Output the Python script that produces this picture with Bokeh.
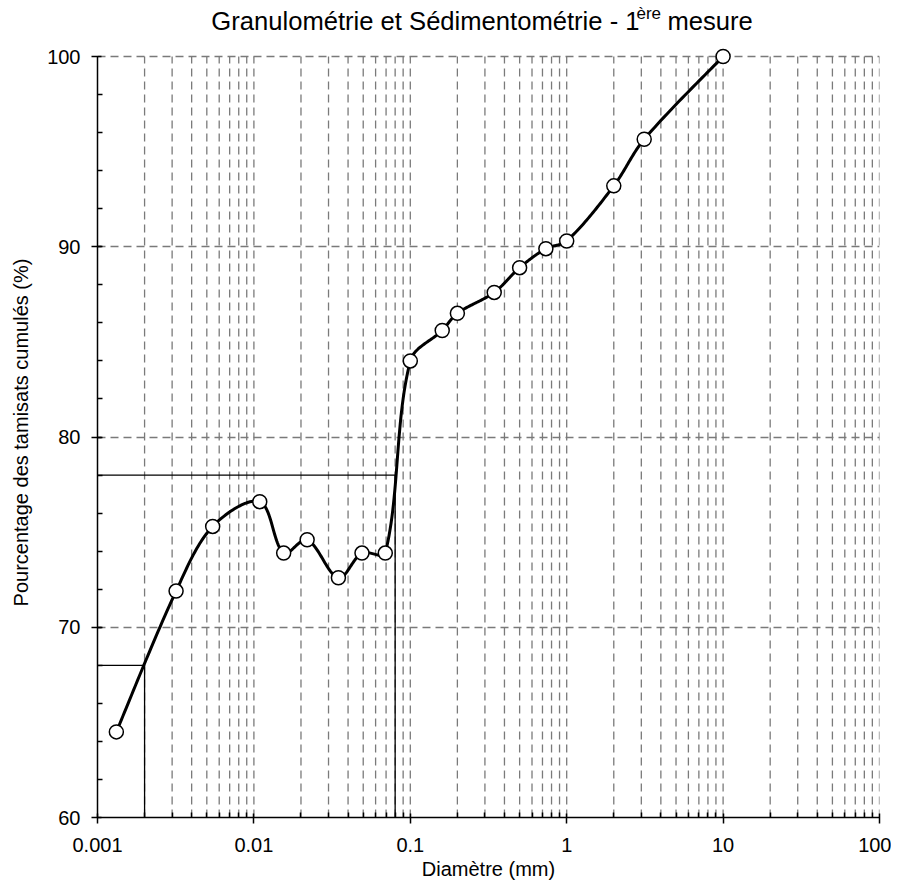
import math
from bokeh.plotting import figure
from bokeh.layouts import column
from bokeh.models import FixedTicker, CustomJSTickFormatter, Range1d
from bokeh.core.properties import value
from bokeh.embed import file_html
from bokeh.resources import INLINE

# ---- data ----
diam = [0.00132, 0.00318, 0.00545, 0.0109, 0.0155, 0.0219, 0.0347, 0.0491, 0.0692,
        0.1, 0.16, 0.2, 0.344, 0.5, 0.736, 1.0, 2.0, 3.13, 10.0]
passing = [64.5, 71.9, 75.3, 76.6, 73.9, 74.6, 72.6, 73.9, 73.9,
           84.0, 85.6, 86.5, 87.6, 88.9, 89.9, 90.3, 93.2, 95.65, 100.0]
ref_d = [0.002, 0.08]
ref_p = [68, 78]
x_ticks = [0.001, 0.01, 0.1, 1, 10, 100]
y_ticks = [60, 70, 80, 90, 100]
title_main = "Granulométrie et Sédimentométrie - 1"
title_sup = "ère"
title_end = "mesure"

FONT = "Liberation Sans"
X0, X1, Y0, Y1 = 0.001, 100, 60, 100
W = 891
TH = 40                      # title strip height
PL, PR = 97, 879             # plot-area left/right (page px)
PT, PB = 56, 817             # plot-area top (value 100) / bottom (value 60)
EXTRA = 9                    # room above 100 so the top marker is not cut
H = 883 - TH
ML, MR = PL, W - PR
MT = PT - EXTRA - TH
MB = H - (PB - TH)
fw = PR - PL
sv = (PB - PT) / (Y1 - Y0)
YTOP = Y1 + EXTRA / sv

# ---- title strip ----
t = figure(width=W, height=TH, x_range=Range1d(PL, PR), y_range=Range1d(0, TH),
           output_backend="svg", toolbar_location=None,
           x_axis_location=None, y_axis_location=None,
           min_border_left=ML, min_border_right=MR, min_border_top=0, min_border_bottom=0)
t.outline_line_color = None
t.xgrid.visible = False
t.ygrid.visible = False
t.text(x=[639], y=[TH - 20], text=[title_main], text_align="right",
       text_baseline="alphabetic", text_font=value(FONT), text_font_size="25.6px",
       text_color="black")
t.text(x=[636], y=[TH - 13], text=[title_sup], text_align="left",
       text_baseline="alphabetic", text_font=value(FONT), text_font_size="17px",
       text_color="black")
t.text(x=[667], y=[TH - 20], text=[title_end], text_align="left",
       text_baseline="alphabetic", text_font=value(FONT), text_font_size="25.6px",
       text_color="black")

# ---- chart ----
p = figure(width=W, height=H, x_axis_type="log", output_backend="svg",
           toolbar_location=None, x_range=Range1d(X0, X1), y_range=Range1d(Y0, YTOP),
           min_border_left=ML, min_border_right=MR, min_border_top=MT, min_border_bottom=MB)
p.outline_line_color = None
p.background_fill_color = "white"

minor_x = [k * 10.0 ** d for d in range(-3, 2) for k in range(2, 10)]
p.xaxis.ticker = FixedTicker(ticks=x_ticks, minor_ticks=minor_x)
p.yaxis.ticker = FixedTicker(ticks=y_ticks, minor_ticks=list(range(62, 100, 2)))
p.xaxis.formatter = CustomJSTickFormatter(code="return String(tick);")
p.yaxis.bounds = (Y0, Y1)

for ax in (p.xaxis[0], p.yaxis[0]):
    ax.axis_line_color = "black"
    ax.axis_line_width = 1.5
    ax.major_tick_line_color = "black"
    ax.major_tick_line_width = 1.5
    ax.minor_tick_line_color = "black"
    ax.minor_tick_line_width = 1.5
    ax.major_tick_in = 4
    ax.major_tick_out = 6
    ax.minor_tick_in = 5
    ax.minor_tick_out = 0
    ax.major_label_text_font = FONT
    ax.major_label_text_font_size = "20px"
    ax.major_label_text_color = "black"
    ax.axis_label_text_font = FONT
    ax.axis_label_text_font_size = "20px"
    ax.axis_label_text_font_style = "normal"
    ax.axis_label_text_color = "black"

p.xaxis.axis_label = "Diamètre (mm)"
p.yaxis.axis_label = "Pourcentage des tamisats cumulés (%)"
p.xaxis.major_label_standoff = 14
p.xaxis.axis_label_standoff = 3
p.yaxis.major_label_standoff = 11
p.yaxis.axis_label_standoff = 12

GRID = "#7a7a7a"
# vertical grid lines drawn as segments so they stop at 100
p.xgrid.visible = False
vx = [v for v in x_ticks[1:]] + minor_x
p.segment(x0=vx, y0=[Y0] * len(vx), x1=vx, y1=[Y1] * len(vx),
          line_color=GRID, line_dash="8 5", line_width=1.3, level="underlay")
p.ygrid.grid_line_color = GRID
p.ygrid.grid_line_dash = "8 5"
p.ygrid.grid_line_width = 1.3
p.ygrid.minor_grid_line_color = None

# reference lines
for d, v in zip(ref_d, ref_p):
    p.line([X0, d, d], [v, v, Y0], line_color="black", line_width=1.3)

# smooth curve: chord-weighted Bezier through the points in screen-proportional space
su = fw / math.log10(X1 / X0)
pts = [(math.log10(d) * su, v * sv) for d, v in zip(diam, passing)]
n = len(pts)


def dist(a, b):
    return math.hypot(a[0] - b[0], a[1] - b[1])


def tangent(i):
    a = pts[i - 1] if i > 0 else pts[i]
    b = pts[i + 1] if i < n - 1 else pts[i]
    return (b[0] - a[0], b[1] - a[1])


cx, cy = [], []
for i in range(n - 1):
    p1, p2 = pts[i], pts[i + 1]
    d12 = dist(p1, p2)
    d01 = dist(pts[i - 1], p1) if i > 0 else d12
    d23 = dist(p2, pts[i + 2]) if i + 2 < n else d12
    t1 = tangent(i)
    t2 = tangent(i + 1)
    f1 = d12 / (d01 + d12) / 3 if i > 0 else 1 / 6
    f2 = d12 / (d12 + d23) / 3 if i + 2 < n else 1 / 6
    c1 = (p1[0] + t1[0] * f1, p1[1] + t1[1] * f1)
    c2 = (p2[0] - t2[0] * f2, p2[1] - t2[1] * f2)
    steps = 30
    for s in range(steps + (1 if i == n - 2 else 0)):
        tt = s / steps
        a = (1 - tt) ** 3
        b = 3 * (1 - tt) ** 2 * tt
        c = 3 * (1 - tt) * tt ** 2
        e = tt ** 3
        u = a * p1[0] + b * c1[0] + c * c2[0] + e * p2[0]
        w = a * p1[1] + b * c1[1] + c * c2[1] + e * p2[1]
        cx.append(10 ** (u / su))
        cy.append(w / sv)

p.line(cx, cy, line_color="black", line_width=3, line_join="round")
p.scatter(diam, passing, size=14, fill_color="white", line_color="black", line_width=1.5)

layout = column(t, p, spacing=0)
open("out.html", "w").write(file_html(layout, INLINE))
